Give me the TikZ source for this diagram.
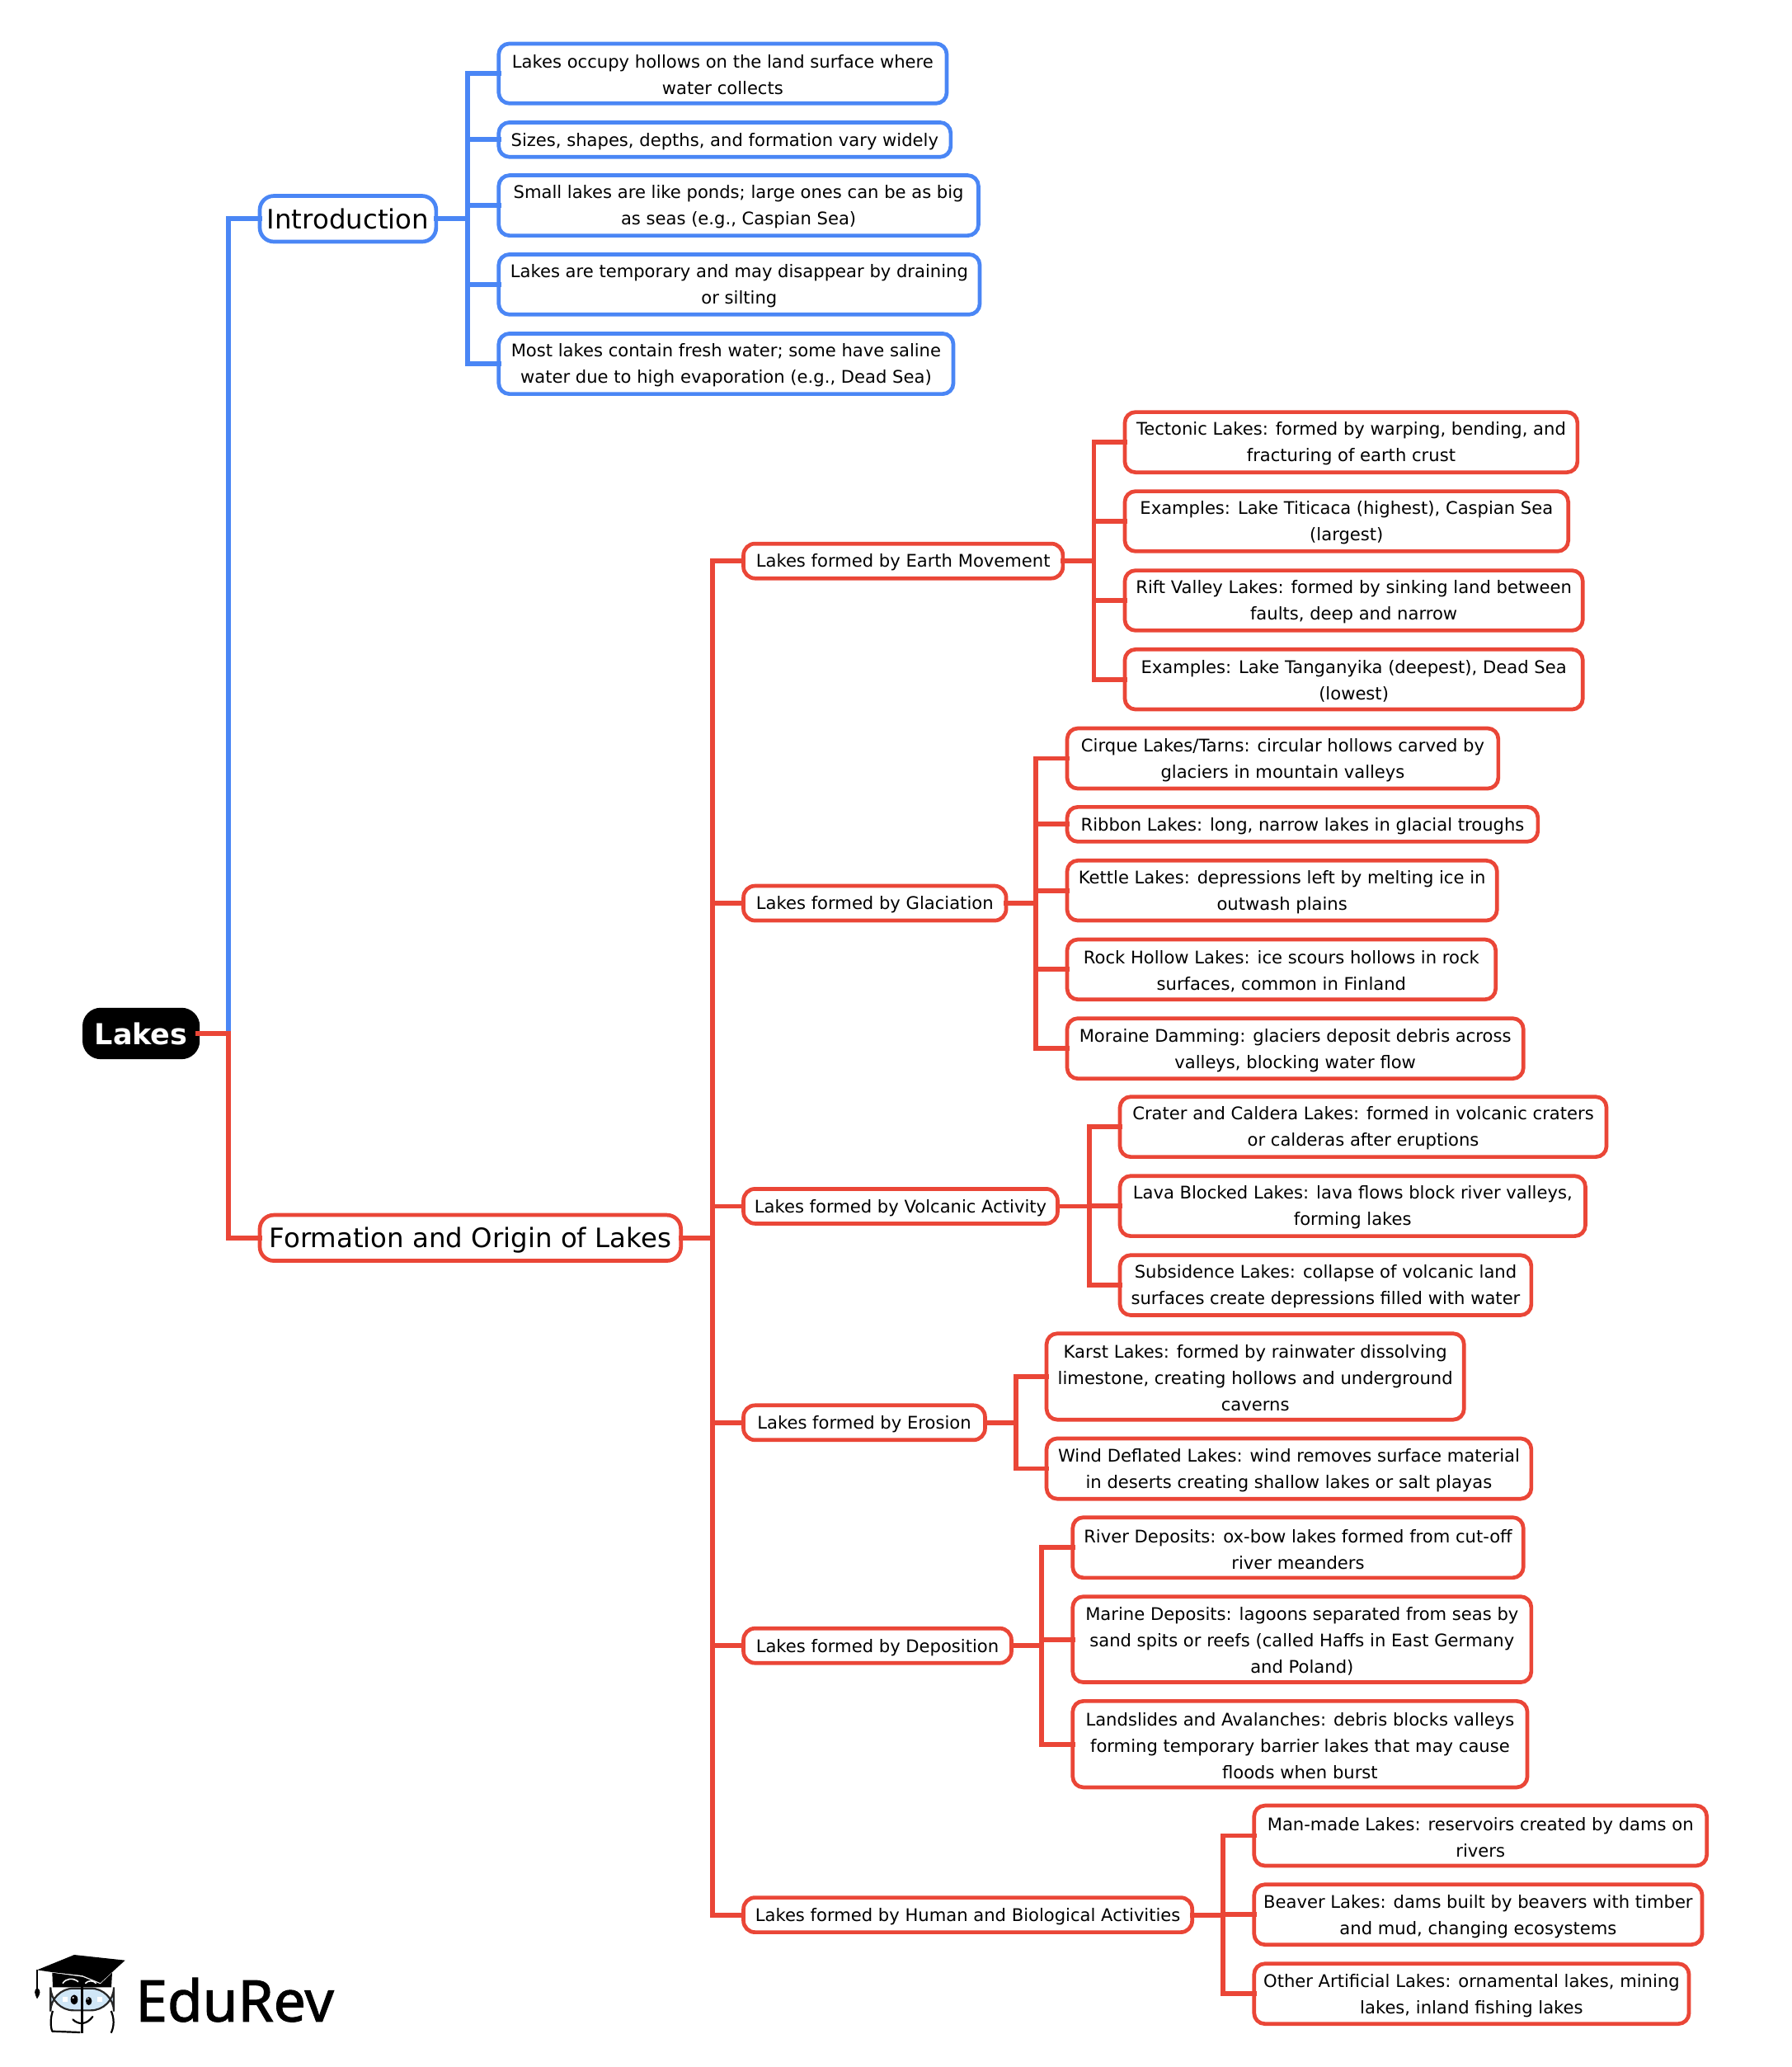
\documentclass[tikz,border=0pt]{standalone}
\usepackage{fontspec}
\setmainfont{DejaVu Sans}
\newfontfamily\logofont[FakeBold=1.6]{Noto Sans}
\definecolor{mblue}{HTML}{4A86F5}
\definecolor{mred}{HTML}{EA4637}
\definecolor{mglass}{HTML}{CFE6F6}
\tikzset{
  basebox/.style={draw,rounded corners=6.5pt,line width=2.35pt,fill=white,inner sep=0pt,outer sep=0pt,align=center,text=black,
    font=\fontsize{10.55}{16}\selectfont},
  bleaf/.style={basebox,draw=mblue},
  rleaf/.style={basebox,draw=mred},
  rmid/.style={basebox,draw=mred,rounded corners=7pt},
  bbig/.style={basebox,draw=mblue,rounded corners=8.5pt,font=\fontsize{16.2}{20}\selectfont},
  rbig/.style={basebox,draw=mred,rounded corners=8.5pt,font=\fontsize{16.2}{20}\selectfont},
  rootbox/.style={basebox,fill=black,draw=black,rounded corners=10pt,text=white,font=\bfseries\fontsize{17.5}{20}\selectfont},
  boxtext/.style={draw=none,fill=none},
  bline/.style={draw=mblue,line width=2.9pt,line cap=rect},
  rline/.style={draw=mred,line width=2.9pt,line cap=rect},
}
% [#1 text drop], #2 name, #3 style, #4 left, #5 top, #6 right, #7 bottom, #8 text (outer edges, preview units)
\newcommand\mmbox[8][-1pt]{%
  \node[#3,minimum width={(#6-#4)*0.8pt-2.35pt},minimum height={(#7-#5)*0.8pt-2.35pt}] (#2) at ({(#4+#6)/2},{(#5+#7)/2}) {};
  \node[#3,boxtext,yshift=#1] (#2-t) at (#2.center) {#8};}
% #1 colour style, #2 parent, #3 trunk x, #4 children
\newcommand\mmfan[4]{%
  \coordinate (#2-j) at (#3,0);
  \draw[#1] (#2.east) -- (#2.east -| #2-j);
  \foreach \mmc in {#4} {\draw[#1] (#2.east -| #2-j) |- (\mmc.west);}}
\begin{document}
\begin{tikzpicture}[x=0.8pt,y=-0.8pt]
\useasboundingbox (0,0) rectangle (1357.5,1566.25);
% nodes
\mmbox[0pt]{root}{rootbox}{62.5}{763.6}{151.4}{802.6}{Lakes}
\mmbox[0pt]{intro}{bbig}{195.4}{147}{332}{184.6}{Introduction}
\mmbox[-1.5pt]{form}{rbig}{195.4}{919.2}{517.5}{956.8}{Formation and Origin of Lakes}
\mmbox{i1}{bleaf}{376.5}{31.6}{719}{79.8}{Lakes occupy hollows on the land surface where\\water collects}
\mmbox{i2}{bleaf}{376.5}{91.3}{722}{120.4}{Sizes, shapes, depths, and formation vary widely}
\mmbox{i3}{bleaf}{376.5}{131.4}{743}{180}{Small lakes are like ponds; large ones can be as big\\as seas (e.g., Caspian Sea)}
\mmbox{i4}{bleaf}{376.5}{191.3}{744}{239.8}{Lakes are temporary and may disappear by draining\\or silting}
\mmbox{i5}{bleaf}{376.5}{251.3}{724}{300}{Most lakes contain fresh water; some have saline\\water due to high evaporation (e.g., Dead Sea)}
\mmbox{earth}{rmid}{562}{410.5}{807}{439.7}{Lakes formed by Earth Movement}
\mmbox{glac}{rmid}{562}{669.8}{764}{699}{Lakes formed by Glaciation}
\mmbox{volc}{rmid}{562}{899.4}{803}{928.6}{Lakes formed by Volcanic Activity}
\mmbox{eros}{rmid}{562}{1063.4}{748}{1092.6}{Lakes formed by Erosion}
\mmbox{depo}{rmid}{562}{1232.4}{768}{1261.6}{Lakes formed by Deposition}
\mmbox{human}{rmid}{562}{1436.4}{905}{1465.6}{Lakes formed by Human and Biological Activities}
\mmbox{e1}{rleaf}{851}{310.8}{1197}{359.4}{Tectonic Lakes: formed by warping, bending, and\\fracturing of earth crust}
\mmbox{e2}{rleaf}{851}{370.8}{1190}{419.2}{Examples: Lake Titicaca (highest), Caspian Sea\\(largest)}
\mmbox{e3}{rleaf}{851}{430.8}{1201}{479.2}{Rift Valley Lakes: formed by sinking land between\\faults, deep and narrow}
\mmbox{e4}{rleaf}{851}{490.6}{1201}{539}{Examples: Lake Tanganyika (deepest), Dead Sea\\(lowest)}
\mmbox{g1}{rleaf}{807.3}{550.4}{1137}{599}{Cirque Lakes/Tarns: circular hollows carved by\\glaciers in mountain valleys}
\mmbox{g2}{rleaf}{807.3}{610}{1167}{639.2}{Ribbon Lakes: long, narrow lakes in glacial troughs}
\mmbox{g3}{rleaf}{807.3}{650.6}{1136}{699}{Kettle Lakes: depressions left by melting ice in\\outwash plains}
\mmbox{g4}{rleaf}{807.3}{710.4}{1135}{758.8}{Rock Hollow Lakes: ice scours hollows in rock\\surfaces, common in Finland}
\mmbox{g5}{rleaf}{807.3}{770.2}{1156}{818.8}{Moraine Damming: glaciers deposit debris across\\valleys, blocking water flow}
\mmbox{v1}{rleaf}{847.3}{829.6}{1219}{878.1}{Crater and Caldera Lakes: formed in volcanic craters\\or calderas after eruptions}
\mmbox{v2}{rleaf}{847.3}{889.6}{1203}{938.1}{Lava Blocked Lakes: lava flows block river valleys,\\forming lakes}
\mmbox{v3}{rleaf}{847.3}{949.6}{1162}{998}{Subsidence Lakes: collapse of volcanic land\\surfaces create depressions filled with water}
\mmbox{r1}{rleaf}{791.7}{1009}{1111}{1077.2}{Karst Lakes: formed by rainwater dissolving\\limestone, creating hollows and underground\\caverns}
\mmbox{r2}{rleaf}{791.7}{1088.5}{1162}{1137.2}{Wind Deflated Lakes: wind removes surface material\\in deserts creating shallow lakes or salt playas}
\mmbox{d1}{rleaf}{811.5}{1148.3}{1156}{1197}{River Deposits: ox-bow lakes formed from cut-off\\river meanders}
\mmbox{d2}{rleaf}{811.5}{1208.3}{1162}{1276.2}{Marine Deposits: lagoons separated from seas by\\sand spits or reefs (called Haffs in East Germany\\and Poland)}
\mmbox{d3}{rleaf}{811.5}{1287.5}{1159}{1355.8}{Landslides and Avalanches: debris blocks valleys\\forming temporary barrier lakes that may cause\\floods when burst}
\mmbox{h1}{rleaf}{949}{1366.7}{1295}{1415.2}{Man-made Lakes: reservoirs created by dams on\\rivers}
\mmbox{h2}{rleaf}{949}{1426.5}{1291.5}{1475}{Beaver Lakes: dams built by beavers with timber\\and mud, changing ecosystems}
\mmbox{h3}{rleaf}{949}{1486.5}{1281.5}{1535}{Other Artificial Lakes: ornamental lakes, mining\\lakes, inland fishing lakes}
% connectors
\coordinate (trunk) at (173,0);
\draw[bline] (root.east) -- (root.east -| trunk) |- (intro.west);
\draw[rline] (root.east) -- (root.east -| trunk) |- (form.west);
\mmfan{bline}{intro}{354.5}{i1,i2,i3,i4,i5}
\mmfan{rline}{form}{540}{earth,glac,volc,eros,depo,human}
\mmfan{rline}{earth}{829}{e1,e2,e3,e4}
\mmfan{rline}{glac}{785}{g1,g2,g3,g4,g5}
\mmfan{rline}{volc}{825.4}{v1,v2,v3}
\mmfan{rline}{eros}{769.8}{r1,r2}
\mmfan{rline}{depo}{789.2}{d1,d2,d3}
\mmfan{rline}{human}{926.7}{h1,h2,h3}
% logo (drawn in 3x crop units)
\begin{scope}[shift={(0,1425)},x=0.16667pt,y=-0.16667pt]
\fill[black] (135,325) -- (270,270) -- (455,290) -- (365,372) -- (300,345) -- (190,333) -- cycle;
\fill[black] (190,335) -- (300,350) -- (365,376) -- (408,335) -- (405,388) -- (192,388) -- cycle;
\draw[black,line width=1pt] (135,325) -- (135,395);
\fill[black] (135,390) .. controls (122,400) and (125,410) .. (135,430) .. controls (148,410) and (150,400) .. (135,390) -- cycle;
\draw[white,line width=0.8pt] (228,374) .. controls (240,355) and (265,352) .. (285,368);
\draw[white,line width=0.8pt] (310,374) .. controls (320,362) and (340,362) .. (350,374);
\draw[black!85,fill=mglass,line width=1.1pt,rounded corners=14pt] (184,392) rectangle (414,472);
\draw[black,line width=1.2pt] (298,385) -- (298,555);
\fill[black] (270,433) ellipse [x radius=13,y radius=18];
\fill[black] (323,438) ellipse [x radius=11,y radius=15];
\fill[white] (266,426) circle (3.5);
\fill[white] (320,430) circle (3);
\fill[white] (228,424) rectangle (246,440);
\fill[white] (354,424) rectangle (372,440);
\draw[black,line width=1.1pt,line cap=round] (265,505) .. controls (285,525) and (315,525) .. (337,495);
\draw[black,line width=1.1pt,line join=round] (192,474) .. controls (183,500) and (183,530) .. (190,548) -- (292,552);
\draw[black,line width=1.1pt] (404,474) .. controls (416,500) and (416,530) .. (404,554);
\node[inner sep=0pt,anchor=base west,text=black,font=\logofont\fontsize{34.7}{36}\selectfont] (brand) at (492,512) {EduRev};
\end{scope}
\end{tikzpicture}
\end{document}
